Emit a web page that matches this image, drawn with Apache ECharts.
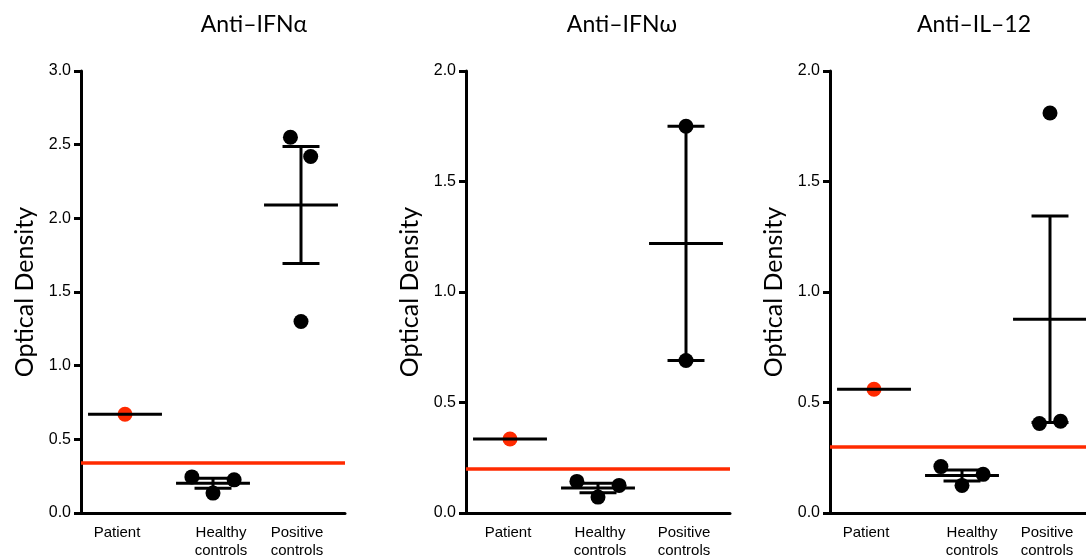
<!DOCTYPE html>
<html>
<head>
<meta charset="utf-8">
<script src="https://cdn.jsdelivr.net/npm/echarts@6/dist/echarts.min.js"></script>
<style>
  html, body { margin: 0; padding: 0; background: #fff; }
  #main { width: 1086px; height: 555px; }
</style>
</head>
<body>
<div id="main"></div>
<script>
// groups on the x axis
const categories = ['Patient', 'Healthy\ncontrols', 'Positive\ncontrols'];
const titles = ['Anti\u2013IFN\u03b1', 'Anti\u2013IFN\u03c9', 'Anti\u2013IL\u201312'];
const yMax = [3, 2, 2];

// optical density readings
const ifnaPatient = [0.67];
const ifnaHealthy = [0.245, 0.225, 0.135];
const ifnaPositive = [2.55, 2.42, 1.30];
const ifnaCutoff = 0.34;

const ifnwPatient = [0.335];
const ifnwHealthy = [0.143, 0.125, 0.072];
const ifnwPositive = [1.75, 0.69];
const ifnwCutoff = 0.20;

const il12Patient = [0.56];
const il12Healthy = [0.21, 0.175, 0.125];
const il12Positive = [1.81, 0.405, 0.415];
const il12Cutoff = 0.30;

// horizontal scatter of the dots inside each group (category units)
const healthyJitter = [-0.24, 0.24, 0];
const ifnaPositiveJitter = [-0.12, 0.11, 0];
const ifnwPositiveJitter = [0, 0];
const il12PositiveJitter = [0, -0.12, 0.12];

const panels = [
    { title: titles[0], max: yMax[0], groups: [ifnaPatient, ifnaHealthy, ifnaPositive], jitter: [[0], healthyJitter, ifnaPositiveJitter], cutoff: ifnaCutoff },
    { title: titles[1], max: yMax[1], groups: [ifnwPatient, ifnwHealthy, ifnwPositive], jitter: [[0], healthyJitter, ifnwPositiveJitter], cutoff: ifnwCutoff },
    { title: titles[2], max: yMax[2], groups: [il12Patient, il12Healthy, il12Positive], jitter: [[0], healthyJitter, il12PositiveJitter], cutoff: il12Cutoff }
];

// layout of the three plots
const gridLeft = [81, 466, 830];
const titleX = [249, 617, 969];
const labelShift = [[-8, 8, -4], [-2, 2, -2], [-8, 10, -3]];
const plotWidth = 264;
const RED = '#ff2a00';

function meanSem(vals) {
    const n = vals.length;
    const m = vals.reduce((a, b) => a + b, 0) / n;
    if (n < 2) return [m, 0];
    const ss = vals.reduce((a, b) => a + (b - m) * (b - m), 0);
    return [m, Math.sqrt(ss / (n - 1)) / Math.sqrt(n)];
}

const chartDom = document.getElementById('main');
let myChart = echarts.init(chartDom);
let option = {
    animation: false,
    title: [],
    grid: [],
    xAxis: [],
    yAxis: [],
    series: []
};

panels.forEach(function (p, k) {
    option.title.push({
        text: p.title,
        left: titleX[k],
        top: 8,
        textAlign: 'center',
        textStyle: { fontFamily: 'Lato', fontWeight: 'normal', fontSize: 23, color: '#000' }
    });
    option.grid.push({ left: gridLeft[k], width: plotWidth, top: 71, bottom: 42, containLabel: false, outerBoundsMode: 'none' });

    // visible category axis
    option.xAxis.push({
        type: 'category',
        gridIndex: k,
        data: categories.map(function (c, i) {
            const s = labelShift[k][i];
            return { value: c, textStyle: { padding: s < 0 ? [0, -2 * s, 0, 0] : [0, 0, 0, 2 * s] } };
        }),
        boundaryGap: true,
        axisLine: { onZero: false, lineStyle: { color: '#000', width: 3 } },
        axisTick: { alignWithLabel: true, length: 7, lineStyle: { color: '#000', width: 3 } },
        axisLabel: { color: '#000', fontFamily: 'Liberation Sans', fontSize: 15, lineHeight: 18, margin: 11, interval: 0 },
        splitLine: { show: false }
    });
    // hidden value axis to place the marks
    option.xAxis.push({
        type: 'value',
        gridIndex: k,
        min: -0.5,
        max: 2.5,
        show: false
    });
    option.yAxis.push({
        type: 'value',
        gridIndex: k,
        min: 0,
        max: p.max,
        interval: 0.5,
        name: 'Optical Density',
        nameLocation: 'middle',
        nameGap: 44,
        nameTextStyle: { fontFamily: 'Lato', fontSize: 25, color: '#000' },
        axisLine: { show: true, onZero: false, lineStyle: { color: '#000', width: 3 } },
        axisTick: { show: true, length: 7, lineStyle: { color: '#000', width: 3 } },
        axisLabel: {
            color: '#000', fontFamily: 'Liberation Sans', fontSize: 16, margin: 10,
            formatter: function (v) { return v.toFixed(1); }
        },
        splitLine: { show: false }
    });

    const xIdx = k * 2 + 1;

    // mean and SEM bars
    let stats = p.groups.map(function (g, i) {
        const ms = meanSem(g);
        return [i, ms[0], ms[0] - ms[1], ms[0] + ms[1], g.length];
    });
    option.series.push({
        type: 'custom',
        xAxisIndex: xIdx,
        yAxisIndex: k,
        z: 3,
        data: stats,
        renderItem: function (params, api) {
            const i = api.value(0), m = api.value(1), lo = api.value(2), hi = api.value(3), n = api.value(4);
            const style = { stroke: '#000', lineWidth: 3 };
            const ml = api.coord([i - 0.42, m]), mr = api.coord([i + 0.42, m]);
            let children = [{ type: 'line', shape: { x1: ml[0], y1: ml[1], x2: mr[0], y2: mr[1] }, style: style }];
            if (n > 1) {
                const top = api.coord([i, hi]), bot = api.coord([i, lo]);
                const cw = api.size([0.21, 0])[0];
                children.push({ type: 'line', shape: { x1: top[0], y1: top[1], x2: bot[0], y2: bot[1] }, style: style });
                children.push({ type: 'line', shape: { x1: top[0] - cw, y1: top[1], x2: top[0] + cw, y2: top[1] }, style: style });
                children.push({ type: 'line', shape: { x1: bot[0] - cw, y1: bot[1], x2: bot[0] + cw, y2: bot[1] }, style: style });
            }
            return { type: 'group', children: children };
        },
        silent: true
    });

    // patient dot (red), drawn under the mean line
    option.series.push({
        type: 'scatter',
        xAxisIndex: xIdx,
        yAxisIndex: k,
        z: 2,
        symbolSize: 15,
        itemStyle: { color: RED, opacity: 1 },
        data: p.groups[0].map(function (v, j) { return [0 + p.jitter[0][j], v]; }),
        markLine: {
            silent: true,
            symbol: 'none',
            label: { show: false },
            lineStyle: { color: RED, width: 3.5, type: 'solid' },
            data: [{ yAxis: p.cutoff }]
        }
    });

    // control dots (black)
    let ctrl = [];
    for (let i = 1; i < p.groups.length; i++) {
        p.groups[i].forEach(function (v, j) {
            ctrl.push([i + p.jitter[i][j], v]);
        });
    }
    option.series.push({
        type: 'scatter',
        xAxisIndex: xIdx,
        yAxisIndex: k,
        z: 4,
        symbolSize: 15,
        itemStyle: { color: '#000', opacity: 1 },
        data: ctrl
    });
});

option && myChart.setOption(option);
</script>
</body>
</html>
